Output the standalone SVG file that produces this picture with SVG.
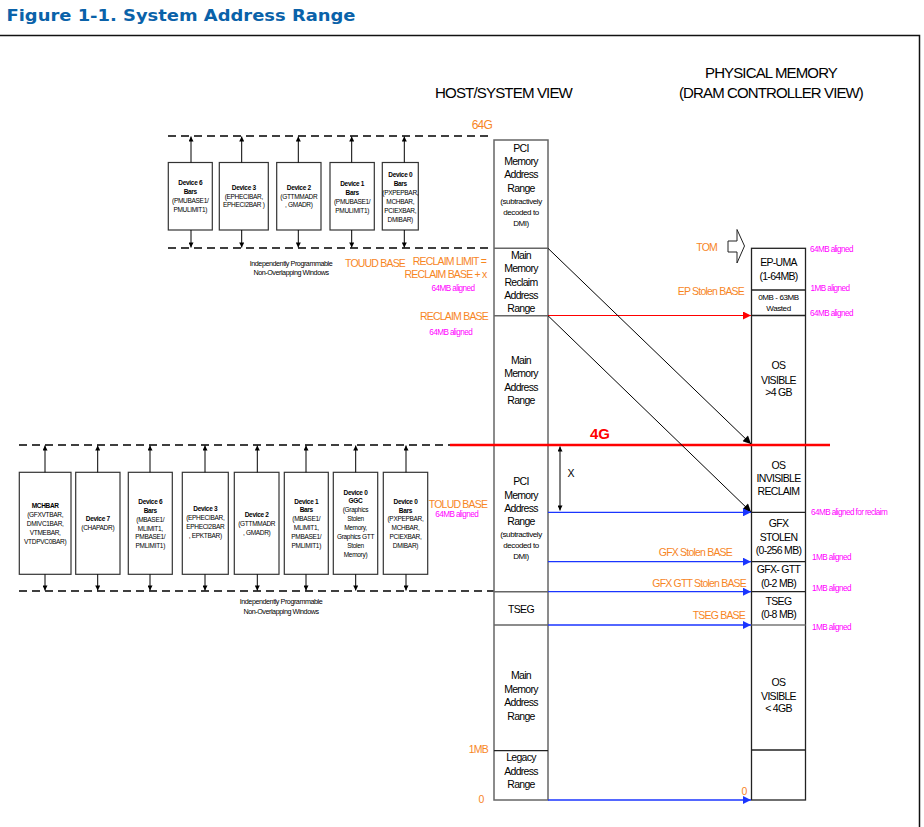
<svg xmlns="http://www.w3.org/2000/svg" width="924" height="827" viewBox="0 0 924 827">
<style>
text{font-family:"Liberation Sans",Arial,sans-serif;fill:#000}
.title{font-family:"DejaVu Sans",Verdana,sans-serif;font-weight:bold;font-size:16px;fill:#0a62a9}
.hdr{font-size:15.5px;letter-spacing:-0.9px;text-anchor:middle}
.col{font-size:10.5px;letter-spacing:-0.7px;text-anchor:middle}
.sm{font-size:8px;letter-spacing:-0.4px;text-anchor:middle}
.or{font-size:10.5px;letter-spacing:-0.8px;fill:#f7861f}
.mg{font-size:8.2px;letter-spacing:-0.6px;fill:#f0f}
.dv{font-size:6.5px;letter-spacing:-0.3px;text-anchor:middle}
.b{font-weight:bold}
.ind{font-size:7.2px;letter-spacing:-0.45px;text-anchor:middle}
.box{fill:#fff;stroke:#333;stroke-width:1.2}
.hcol{fill:none;stroke:#666;stroke-width:1.5}
.pcol{fill:none;stroke:#222;stroke-width:1.3}
.dash{stroke:#000;stroke-width:1.5;stroke-dasharray:8 5;fill:none}
.dva{stroke:#000;stroke-width:1;marker-end:url(#as)}
.blue{stroke:#1a35ff;stroke-width:1.3;fill:none;marker-end:url(#ab)}
</style>
<defs>
<marker id="ab" viewBox="0 0 10 10" refX="10" refY="5" markerWidth="9" markerHeight="8" markerUnits="userSpaceOnUse" orient="auto"><path d="M0,0 L10,5 L0,10 z" fill="#1a35ff"/></marker>
<marker id="ar" viewBox="0 0 10 10" refX="10" refY="5" markerWidth="9" markerHeight="8" markerUnits="userSpaceOnUse" orient="auto"><path d="M0,0 L10,5 L0,10 z" fill="#f00"/></marker>
<marker id="ak" viewBox="0 0 10 10" refX="10" refY="5" markerWidth="10" markerHeight="8" markerUnits="userSpaceOnUse" orient="auto"><path d="M0,0 L10,5 L0,10 z" fill="#000"/></marker>
<marker id="as" viewBox="0 0 10 10" refX="10" refY="5" markerWidth="6" markerHeight="5" markerUnits="userSpaceOnUse" orient="auto"><path d="M0,0 L10,5 L0,10 z" fill="#000"/></marker>
<marker id="as2" viewBox="0 0 10 10" refX="10" refY="5" markerWidth="6" markerHeight="5" markerUnits="userSpaceOnUse" orient="auto-start-reverse"><path d="M0,0 L10,5 L0,10 z" fill="#000"/></marker>
</defs>
<rect width="924" height="827" fill="#fff"/>
<text class="title" x="6.5" y="20.5" textLength="349" lengthAdjust="spacingAndGlyphs">Figure 1-1. System Address Range</text>
<path d="M0,35.5 H919.5 V827" fill="none" stroke="#111" stroke-width="1.5"/>

<!-- headers -->
<text class="hdr" x="503.5" y="98" textLength="137" lengthAdjust="spacingAndGlyphs">HOST/SYSTEM VIEW</text>
<text class="hdr" x="771" y="78" textLength="132" lengthAdjust="spacingAndGlyphs">PHYSICAL MEMORY</text>
<text class="hdr" x="771" y="98" textLength="184" lengthAdjust="spacingAndGlyphs">(DRAM CONTROLLER VIEW)</text>

<!-- dashed window lines -->
<g id="windows">
<line class="dash" x1="168" y1="136" x2="492" y2="136"/>
<line class="dash" x1="168" y1="248" x2="492" y2="248"/>
<line class="dash" x1="19" y1="445" x2="452" y2="445"/>
<line class="dash" x1="19" y1="591" x2="494" y2="591"/>
<text class="ind" x="291" y="265.8">Independently Programmable</text>
<text class="ind" x="291" y="275.2">Non-Overlapping Windows</text>
<text class="ind" x="281" y="604.2">Independently Programmable</text>
<text class="ind" x="281" y="613.5">Non-Overlapping Windows</text>
</g>

<!-- top devices -->
<g id="top-dev6">
<rect class="box" x="168.3" y="162.5" width="44" height="67.5"/>
<text class="dv b" x="190.3" y="184.6">Device 6</text>
<text class="dv b" x="190.3" y="194">Bars</text>
<text class="dv" x="190.3" y="203.3">(PMUBASE1/</text>
<text class="dv" x="190.3" y="212.3">PMULIMIT1)</text>
</g>
<g id="top-dev3">
<rect class="box" x="219.3" y="162.5" width="49" height="67.5"/>
<text class="dv b" x="243.8" y="189.6">Device 3</text>
<text class="dv" x="243.8" y="199">(EPHECIBAR,</text>
<text class="dv" x="243.8" y="207.3">EPHECI2BAR )</text>
</g>
<g id="top-dev2">
<rect class="box" x="276.7" y="162.5" width="44.3" height="67.5"/>
<text class="dv b" x="298.8" y="189.6">Device 2</text>
<text class="dv" x="298.8" y="199">(GTTMMADR</text>
<text class="dv" x="298.8" y="207.3">, GMADR)</text>
</g>
<g id="top-dev1">
<rect class="box" x="330" y="162.5" width="44.3" height="67.5"/>
<text class="dv b" x="352.2" y="186">Device 1</text>
<text class="dv b" x="352.2" y="195">Bars</text>
<text class="dv" x="352.2" y="204">(PMUBASE1/</text>
<text class="dv" x="352.2" y="213">PMULIMIT1)</text>
</g>
<g id="top-dev0">
<rect class="box" x="382.3" y="162.5" width="36" height="67.5"/>
<text class="dv b" x="400.3" y="176.6">Device 0</text>
<text class="dv b" x="400.3" y="186">Bars</text>
<text class="dv" x="400.3" y="195">(PXPEPBAR,</text>
<text class="dv" x="400.3" y="204">MCHBAR,</text>
<text class="dv" x="400.3" y="213">PCIEXBAR,</text>
<text class="dv" x="400.3" y="222">DMIBAR)</text>
</g>

<!-- bottom devices -->
<g id="bot-mchbar">
<rect class="box" x="19.3" y="472.3" width="51.7" height="102"/>
<text class="dv b" x="45.2" y="508">MCHBAR</text>
<text class="dv" x="45.2" y="517.3">(GFXVTBAR,</text>
<text class="dv" x="45.2" y="526.3">DMIVC1BAR,</text>
<text class="dv" x="45.2" y="535.3">VTMEBAR,</text>
<text class="dv" x="45.2" y="544">VTDPVC0BAR)</text>
</g>
<g id="bot-dev7">
<rect class="box" x="75.7" y="472.3" width="44.3" height="102"/>
<text class="dv b" x="97.8" y="520.6">Device 7</text>
<text class="dv" x="97.8" y="529.6">(CHAPADR)</text>
</g>
<g id="bot-dev6">
<rect class="box" x="128.3" y="472.3" width="44" height="102"/>
<text class="dv b" x="150.3" y="504">Device 6</text>
<text class="dv b" x="150.3" y="512.6">Bars</text>
<text class="dv" x="150.3" y="522">(MBASE1/</text>
<text class="dv" x="150.3" y="530.6">MLIMIT1,</text>
<text class="dv" x="150.3" y="539.3">PMBASE1/</text>
<text class="dv" x="150.3" y="548.3">PMLIMIT1)</text>
</g>
<g id="bot-dev3">
<rect class="box" x="182.3" y="472.3" width="46" height="102"/>
<text class="dv b" x="205.3" y="511.3">Device 3</text>
<text class="dv" x="205.3" y="520.3">(EPHECIBAR,</text>
<text class="dv" x="205.3" y="529.3">EPHECI2BAR</text>
<text class="dv" x="205.3" y="538.3">, EPKTBAR)</text>
</g>
<g id="bot-dev2">
<rect class="box" x="234.3" y="472.3" width="44.7" height="102"/>
<text class="dv b" x="256.7" y="516.6">Device 2</text>
<text class="dv" x="256.7" y="526.3">(GTTMMADR</text>
<text class="dv" x="256.7" y="535.3">, GMADR)</text>
</g>
<g id="bot-dev1">
<rect class="box" x="284.3" y="472.3" width="44" height="102"/>
<text class="dv b" x="306.3" y="503.6">Device 1</text>
<text class="dv b" x="306.3" y="512.3">Bars</text>
<text class="dv" x="306.3" y="521.3">(MBASE1/</text>
<text class="dv" x="306.3" y="530.3">MLIMIT1,</text>
<text class="dv" x="306.3" y="539.3">PMBASE1/</text>
<text class="dv" x="306.3" y="548.3">PMLIMIT1)</text>
</g>
<g id="bot-dev0-ggc">
<rect class="box" x="333.3" y="472.3" width="44.4" height="102"/>
<text class="dv b" x="355.5" y="494.6">Device 0</text>
<text class="dv b" x="355.5" y="503.3">GGC</text>
<text class="dv" x="355.5" y="512.3">(Graphics</text>
<text class="dv" x="355.5" y="521.3">Stolen</text>
<text class="dv" x="355.5" y="530.3">Memory,</text>
<text class="dv" x="355.5" y="539.3">Graphics GTT</text>
<text class="dv" x="355.5" y="548.3">Stolen</text>
<text class="dv" x="355.5" y="556.6">Memory)</text>
</g>
<g id="bot-dev0-bars">
<rect class="box" x="383.3" y="472.3" width="44.4" height="102"/>
<text class="dv b" x="405.5" y="504">Device 0</text>
<text class="dv b" x="405.5" y="512.6">Bars</text>
<text class="dv" x="405.5" y="521.3">(PXPEPBAR,</text>
<text class="dv" x="405.5" y="530.3">MCHBAR,</text>
<text class="dv" x="405.5" y="539.3">PCIEXBAR,</text>
<text class="dv" x="405.5" y="548.3">DMIBAR)</text>
</g>

<!-- host column -->
<g id="host-view">
<rect class="hcol" x="494" y="140" width="54" height="660"/>
<g stroke="#666" stroke-width="1.5">
<line x1="494" y1="248.3" x2="548" y2="248.3"/>
<line x1="494" y1="315.7" x2="548" y2="315.7"/>
<line x1="494" y1="445" x2="548" y2="445"/>
<line x1="494" y1="591.7" x2="548" y2="591.7"/>
<line x1="494" y1="625" x2="548" y2="625"/>
</g>
<line x1="494" y1="750.7" x2="548" y2="750.7" stroke="#222" stroke-width="1.3"/>
<text class="col" x="521" y="152">PCI</text>
<text class="col" x="521" y="165">Memory</text>
<text class="col" x="521" y="178">Address</text>
<text class="col" x="521" y="192">Range</text>
<text class="sm" x="521" y="204">(subtractively</text>
<text class="sm" x="521" y="214.5">decoded to</text>
<text class="sm" x="521" y="226">DMI)</text>
<text class="col" x="521" y="258.5">Main</text>
<text class="col" x="521" y="272">Memory</text>
<text class="col" x="521" y="286">Reclaim</text>
<text class="col" x="521" y="298.5">Address</text>
<text class="col" x="521" y="312">Range</text>
<text class="col" x="521" y="363.5">Main</text>
<text class="col" x="521" y="377">Memory</text>
<text class="col" x="521" y="390.5">Address</text>
<text class="col" x="521" y="403.5">Range</text>
<text class="col" x="521" y="485">PCI</text>
<text class="col" x="521" y="498.5">Memory</text>
<text class="col" x="521" y="512">Address</text>
<text class="col" x="521" y="525">Range</text>
<text class="sm" x="521" y="537">(subtractively</text>
<text class="sm" x="521" y="548">decoded to</text>
<text class="sm" x="521" y="559">DMI)</text>
<text class="col" x="521" y="613">TSEG</text>
<text class="col" x="521" y="679">Main</text>
<text class="col" x="521" y="693">Memory</text>
<text class="col" x="521" y="706">Address</text>
<text class="col" x="521" y="719.5">Range</text>
<text class="col" x="521" y="761">Legacy</text>
<text class="col" x="521" y="774.5">Address</text>
<text class="col" x="521" y="787.5">Range</text>
</g>

<!-- physical column -->
<g id="physical-view">
<rect class="pcol" x="751.5" y="248.3" width="54" height="551.7"/>
<g stroke="#222" stroke-width="1.3">
<line x1="751.5" y1="290" x2="805.5" y2="290"/>
<line x1="751.5" y1="315.5" x2="805.5" y2="315.5"/>
<line x1="751.5" y1="512.3" x2="805.5" y2="512.3"/>
<line x1="751.5" y1="561.7" x2="805.5" y2="561.7"/>
<line x1="751.5" y1="591.7" x2="805.5" y2="591.7"/>
<line x1="751.5" y1="625" x2="805.5" y2="625" stroke="#777"/>
<line x1="751.5" y1="750" x2="805.5" y2="750"/>
</g>
<text class="col" x="778.5" y="266">EP-UMA</text>
<text class="col" x="778.5" y="279.5">(1-64MB)</text>
<text class="sm" x="778.5" y="299.5">0MB - 63MB</text>
<text class="sm" x="778.5" y="310.5">Wasted</text>
<text class="col" x="778.5" y="369">OS</text>
<text class="col" x="778.5" y="383.5">VISIBLE</text>
<text class="col" x="778.5" y="396">&gt;4 GB</text>
<text class="col" x="778.5" y="468.5">OS</text>
<text class="col" x="778.5" y="482">INVISIBLE</text>
<text class="col" x="778.5" y="494.5">RECLAIM</text>
<text class="col" x="778.5" y="527">GFX</text>
<text class="col" x="778.5" y="540.5">STOLEN</text>
<text class="col" x="778.5" y="553.5">(0-256 MB)</text>
<text class="col" x="778.5" y="573">GFX- GTT</text>
<text class="col" x="778.5" y="587">(0-2 MB)</text>
<text class="col" x="778.5" y="604.5">TSEG</text>
<text class="col" x="778.5" y="618">(0-8 MB)</text>
<text class="col" x="778.5" y="686">OS</text>
<text class="col" x="778.5" y="699.5">VISIBLE</text>
<text class="col" x="778.5" y="712">&lt; 4GB</text>
</g>

<!-- TOM marker -->
<g id="tom">
<path d="M728,241 H737 V229.5 L744.5,246 L737,263 V252 H728 Z" fill="#fff" stroke="#222" stroke-width="1"/>
<text class="or" x="706.7" y="250.5" text-anchor="middle">TOM</text>
</g>

<!-- labels -->
<g id="labels">
<text class="or" x="492" y="128.5" text-anchor="end" style="font-size:12px">64G</text>
<text class="or" x="345" y="267">TOUUD BASE</text>
<text class="or" x="486" y="264.5" text-anchor="end">RECLAIM LIMIT =</text>
<text class="or" x="486.5" y="278" text-anchor="end">RECLAIM BASE + x</text>
<text class="mg" x="453" y="290.5" text-anchor="middle">64MB aligned</text>
<text class="or" x="488" y="320" text-anchor="end">RECLAIM BASE</text>
<text class="mg" x="450.7" y="334.5" text-anchor="middle">64MB aligned</text>
<text class="or" x="458" y="507.5" text-anchor="middle">TOLUD BASE</text>
<text class="mg" x="456.7" y="517" text-anchor="middle">64MB aligned</text>
<text class="or" x="488" y="753" text-anchor="end">1MB</text>
<text class="or" x="481" y="802.5" text-anchor="middle">0</text>
<text class="or" x="744" y="295" text-anchor="end">EP Stolen BASE</text>
<text class="or" x="732" y="555.5" text-anchor="end">GFX Stolen BASE</text>
<text class="or" x="746" y="587" text-anchor="end">GFX GTT Stolen BASE</text>
<text class="or" x="745" y="618.5" text-anchor="end">TSEG BASE</text>
<text class="or" x="744" y="794.5" text-anchor="middle">0</text>
<text class="mg" x="810" y="252">64MB aligned</text>
<text class="mg" x="810.5" y="291">1MB aligned</text>
<text class="mg" x="810" y="315.5">64MB aligned</text>
<text class="mg" x="811" y="514.5">64MB aligned for reclaim</text>
<text class="mg" x="812" y="559.5">1MB aligned</text>
<text class="mg" x="812" y="591">1MB aligned</text>
<text class="mg" x="812" y="629.5">1MB aligned</text>
<text x="590" y="438.5" style="font-size:15px;font-weight:bold;fill:#f00">4G</text>
<text class="col" x="570.7" y="477">X</text>
</g>

<!-- connectors -->
<g id="connectors">
<line class="dva" x1="191" y1="162.5" x2="191" y2="136.5"/>
<line class="dva" x1="191" y1="230" x2="191" y2="247.5"/>
<line class="dva" x1="241.7" y1="162.5" x2="241.7" y2="136.5"/>
<line class="dva" x1="241.7" y1="230" x2="241.7" y2="247.5"/>
<line class="dva" x1="298.3" y1="162.5" x2="298.3" y2="136.5"/>
<line class="dva" x1="298.3" y1="230" x2="298.3" y2="247.5"/>
<line class="dva" x1="351.7" y1="162.5" x2="351.7" y2="136.5"/>
<line class="dva" x1="351.7" y1="230" x2="351.7" y2="247.5"/>
<line class="dva" x1="404.3" y1="162.5" x2="404.3" y2="136.5"/>
<line class="dva" x1="404.3" y1="230" x2="404.3" y2="247.5"/>

<line class="dva" x1="45" y1="472.3" x2="45" y2="445.5"/>
<line class="dva" x1="45" y1="574.3" x2="45" y2="590.5"/>
<line class="dva" x1="97.7" y1="472.3" x2="97.7" y2="445.5"/>
<line class="dva" x1="97.7" y1="574.3" x2="97.7" y2="590.5"/>
<line class="dva" x1="150" y1="472.3" x2="150" y2="445.5"/>
<line class="dva" x1="150" y1="574.3" x2="150" y2="590.5"/>
<line class="dva" x1="205" y1="472.3" x2="205" y2="445.5"/>
<line class="dva" x1="205" y1="574.3" x2="205" y2="590.5"/>
<line class="dva" x1="257.3" y1="472.3" x2="257.3" y2="445.5"/>
<line class="dva" x1="257.3" y1="574.3" x2="257.3" y2="590.5"/>
<line class="dva" x1="306" y1="472.3" x2="306" y2="445.5"/>
<line class="dva" x1="306" y1="574.3" x2="306" y2="590.5"/>
<line class="dva" x1="355.7" y1="472.3" x2="355.7" y2="445.5"/>
<line class="dva" x1="355.7" y1="574.3" x2="355.7" y2="590.5"/>
<line class="dva" x1="406" y1="472.3" x2="406" y2="445.5"/>
<line class="dva" x1="406" y1="574.3" x2="406" y2="590.5"/>

<line x1="450" y1="445" x2="830" y2="445" stroke="#f00" stroke-width="2.5"/>
<line x1="548" y1="315.5" x2="751" y2="315.5" stroke="#f00" stroke-width="1" marker-end="url(#ar)"/>
<line x1="548" y1="248.3" x2="751" y2="444" stroke="#000" stroke-width="1" marker-end="url(#ak)"/>
<line x1="548" y1="315.7" x2="751" y2="512" stroke="#000" stroke-width="1" marker-end="url(#ak)"/>
<line class="blue" x1="548" y1="512.3" x2="751" y2="512.3"/>
<line class="blue" x1="548" y1="561.7" x2="751" y2="561.7"/>
<line class="blue" x1="548" y1="591.7" x2="751" y2="591.7"/>
<line class="blue" x1="548" y1="625" x2="751" y2="625" stroke="#4a62ff"/>
<line class="blue" x1="548" y1="800" x2="751" y2="800"/>
<line x1="560" y1="446.5" x2="560" y2="510.5" stroke="#000" stroke-width="1" marker-start="url(#as2)" marker-end="url(#as2)"/>
</g>
</svg>
